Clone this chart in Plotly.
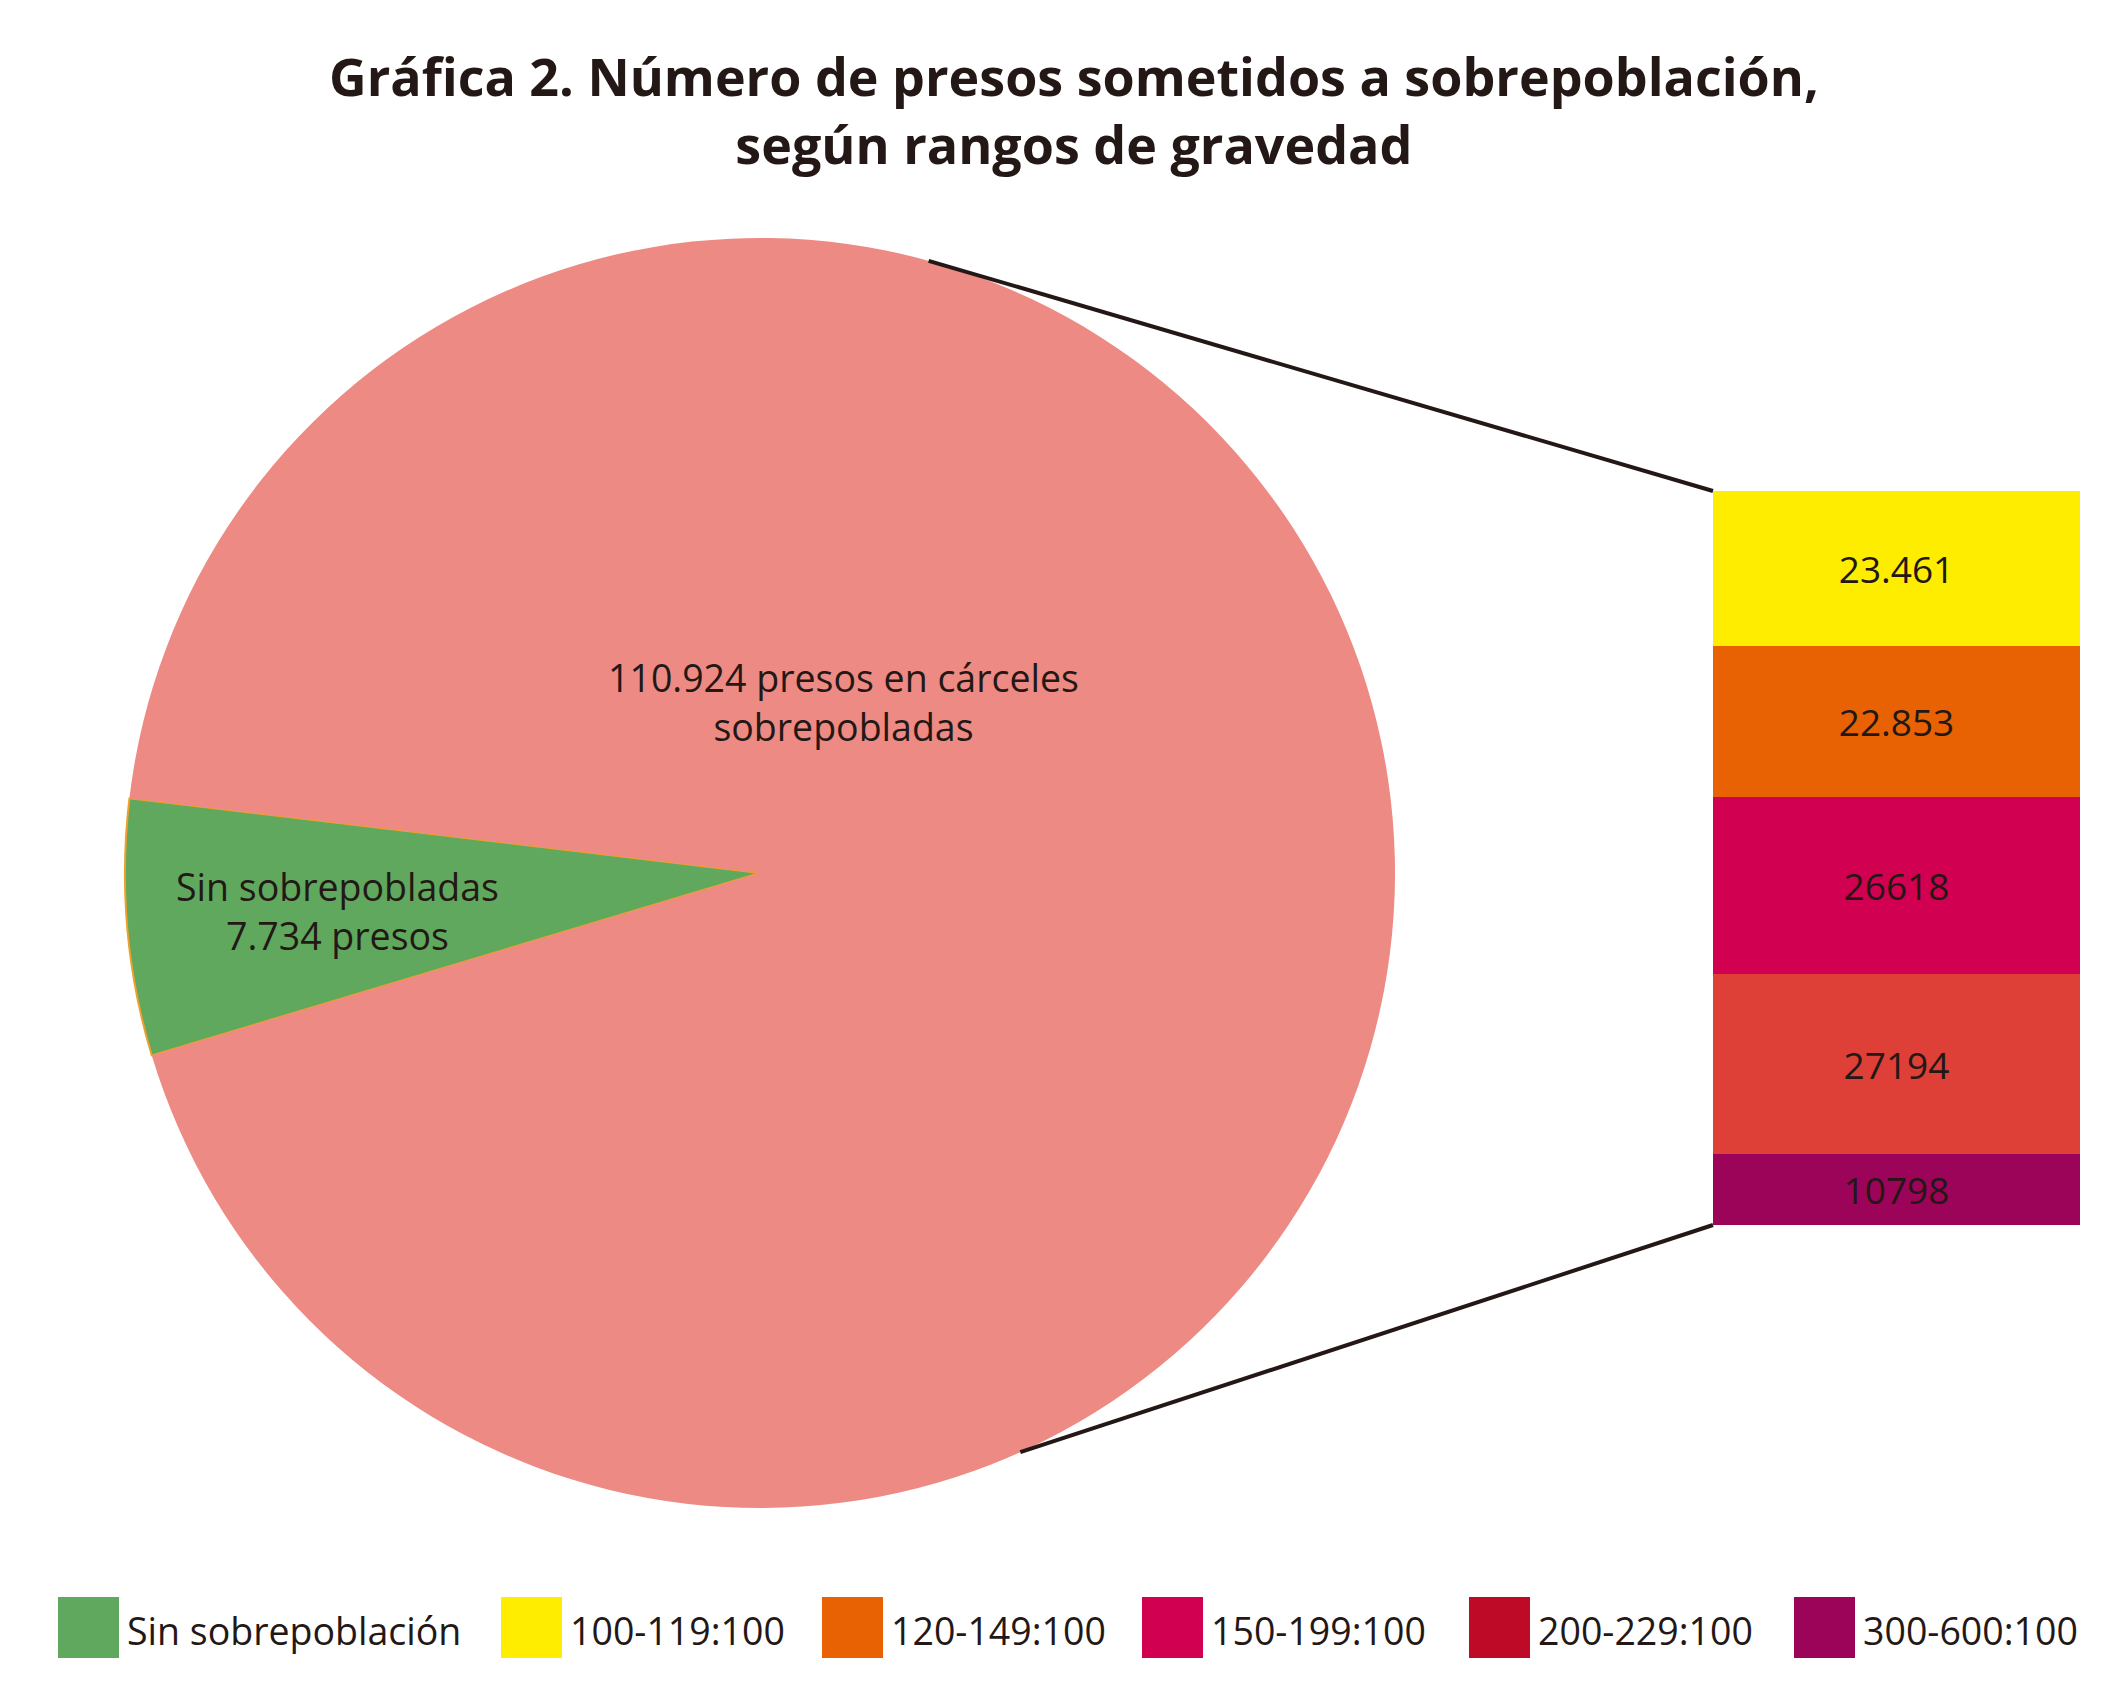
import math
import plotly.graph_objects as go

# Pie: prisoners with / without overcrowding
pie_labels = ["Sin sobrepobladas", "Presos en cárceles sobrepobladas"]
pie_values = [7734, 110924]
pie_text = ["Sin sobrepobladas<br>7.734 presos",
            "110.924 presos en cárceles<br>sobrepobladas"]

# Stacked column: breakdown of the overcrowded ones (bottom -> top)
ranges = ["300-600:100", "200-229:100", "150-199:100", "120-149:100", "100-119:100"]
range_values = [10798, 27194, 26618, 22853, 23461]
range_text = ["10798", "27194", "26618", "22.853", "23.461"]

# Legend entries
legend_names = ["Sin sobrepoblación", "100-119:100", "120-149:100",
                "150-199:100", "200-229:100", "300-600:100"]
legend_colors = ["#5FA85D", "#FFED00", "#E86204", "#D10050", "#BE0A26", "#9C0459"]

bar_colors = ["#9C0459", "#DE3F36", "#D10050", "#E86204", "#FFED00"]
pie_colors = ["#5FA85D", "#ED8A83"]
ink = "#231815"
font = "Open Sans"

W, H = 2124, 1704
OFF = 8  # page body margin of the browser
pie_cx, pie_cy, pie_r = 760 - OFF, 873 - OFF, 635
bar_x0, bar_x1 = 1713 - OFF, 2080 - OFF
bar_y0, bar_y1 = 491 - OFF, 1225 - OFF


def px(x, y):
    return x / W, 1 - y / H


fig = go.Figure()

fig.add_trace(go.Pie(
    labels=pie_labels,
    values=pie_values,
    sort=False,
    direction="counterclockwise",
    rotation=-106.7,
    textinfo="none",
    hoverinfo="label+value",
    marker=dict(colors=pie_colors,
                line=dict(color=["#EFA02C", "#ED8A83"], width=[2, 0])),
    domain=dict(x=[(pie_cx - pie_r) / W, (pie_cx + pie_r) / W],
                y=[1 - (pie_cy + pie_r) / H, 1 - (pie_cy - pie_r) / H]),
    showlegend=False,
))

for name, val, txt, col in zip(ranges, range_values, range_text, bar_colors):
    fig.add_trace(go.Bar(
        x=["rangos"], y=[val], name=name,
        marker=dict(color=col, line=dict(width=0)),
        text=[txt], textposition="inside", insidetextanchor="middle",
        textangle=0, textfont=dict(family=font, size=37, color=ink),
        hovertemplate=name + ": %{y}<extra></extra>",
        showlegend=False,
    ))

# connector lines from the pie edge to the column
shapes = []
for ang, (bx, by) in [(74.6, (bar_x0, bar_y0)), (-65.8, (bar_x0, bar_y1))]:
    sx = pie_cx + pie_r * math.cos(math.radians(ang))
    sy = pie_cy - pie_r * math.sin(math.radians(ang))
    x0, y0 = px(sx, sy)
    x1, y1 = px(bx, by)
    shapes.append(dict(type="line", xref="paper", yref="paper",
                       x0=x0, y0=y0, x1=x1, y1=y1,
                       line=dict(color=ink, width=4)))

# hand-made legend with big squares
annotations = []
legend_left = [58, 501, 822, 1142, 1469, 1794]
sq, sq_top = 61, 1597 - OFF
for name, col, lx in zip(legend_names, legend_colors, legend_left):
    lx -= OFF
    x0, y1 = px(lx, sq_top)
    x1, y0 = px(lx + sq, sq_top + sq)
    shapes.append(dict(type="rect", xref="paper", yref="paper",
                       x0=x0, x1=x1, y0=y0, y1=y1,
                       fillcolor=col, line=dict(width=0)))
    tx, ty = px(lx + sq + 6, sq_top + sq / 2 + 3)
    annotations.append(dict(xref="paper", yref="paper", x=tx, y=ty,
                            text=name, showarrow=False, xanchor="left",
                            yanchor="middle",
                            font=dict(family=font, size=37.5, color=ink)))

# labels on the pie
for (lx, ly), txt in zip([(337, 911), (843, 702)], pie_text):
    ax, ay = px(lx - OFF, ly - OFF)
    annotations.append(dict(xref="paper", yref="paper", x=ax, y=ay,
                            text=txt, showarrow=False, align="center",
                            xanchor="center", yanchor="middle",
                            font=dict(family=font, size=37.5, color=ink)))

# title
tx, ty = px(1074 - OFF, 38 - OFF)
annotations.append(dict(
    xref="paper", yref="paper", x=tx, y=ty, xanchor="center", yanchor="top",
    showarrow=False, align="center",
    text="<b>Gráfica 2. Número de presos sometidos a sobrepoblación,<br>según rangos de gravedad</b>",
    font=dict(family=font, size=52, color=ink)))

fig.update_layout(
    width=W, height=H,
    margin=dict(l=0, r=0, t=0, b=0),
    paper_bgcolor="white", plot_bgcolor="white",
    barmode="stack", bargap=0,
    xaxis=dict(domain=[bar_x0 / W, bar_x1 / W], range=[-0.5, 0.5],
               visible=False, fixedrange=True),
    yaxis=dict(domain=[1 - bar_y1 / H, 1 - bar_y0 / H],
               range=[0, sum(range_values)], visible=False, fixedrange=True),
    shapes=shapes,
    annotations=annotations,
)

fig.write_html("out.html")
